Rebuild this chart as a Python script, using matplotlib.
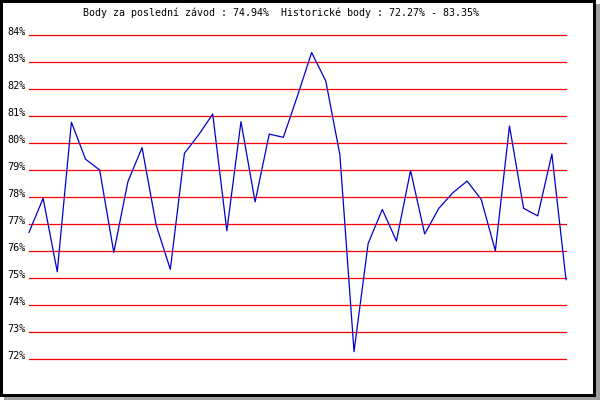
import matplotlib
matplotlib.use("Agg")
import matplotlib.pyplot as plt
from matplotlib.patches import Rectangle

# scores per race (%)
scores = [76.69, 77.95, 75.23, 80.77, 79.40, 79.00, 75.95, 78.57, 79.83, 76.96,
          75.32, 79.62, 80.30, 81.07, 76.75, 80.79, 77.82, 80.33, 80.21, 81.75,
          83.35, 82.30, 79.56, 72.27, 76.28, 77.54, 76.37, 78.98, 76.63, 77.58,
          78.16, 78.59, 77.91, 76.01, 80.63, 77.58, 77.30, 79.59, 74.94]
y_ticks = list(range(72, 85))
y_labels = [f"{v}%" for v in y_ticks]
title = "Body za poslední závod : 74.94%  Historické body : 72.27% - 83.35%"

W, H = 600, 400
fig = plt.figure(figsize=(6, 4), dpi=100)

# frame with drop shadow
fig.patches.append(Rectangle((4 / W, 0), 596 / W, 396 / H, transform=fig.transFigure,
                             facecolor="#a0a0a0", edgecolor="none", zorder=0))
fig.patches.append(Rectangle((0, 3 / H), 596 / W, 397 / H, transform=fig.transFigure,
                             facecolor="black", edgecolor="none", zorder=0))
fig.patches.append(Rectangle((3 / W, 6 / H), 590 / W, 391 / H, transform=fig.transFigure,
                             facecolor="white", edgecolor="none", zorder=0))

ax = fig.add_axes([29 / W, 1 - 359 / H, 537 / W, 324 / H])
ax.set_zorder(5)
ax.patch.set_alpha(0)
for s in ax.spines.values():
    s.set_visible(False)

for v in y_ticks:
    ax.axhline(v, color="#ff0000", lw=0.9, zorder=1, clip_on=False)

ax.plot(range(len(scores)), scores, color="#0000cc", lw=0.9, zorder=2, clip_on=False)

ax.set_xlim(0, len(scores) - 1)
ax.set_ylim(72, 84)
ax.set_xticks([])
ax.set_yticks(y_ticks, y_labels, family="DejaVu Sans Mono", fontsize=7.3)
ax.tick_params(axis="y", length=0, pad=2.5)
for lab in ax.get_yticklabels():
    lab.set_va("baseline")

fig.text(83 / W, 1 - 16.5 / H, title, family="DejaVu Sans Mono", fontsize=7.2,
         ha="left", va="baseline", zorder=6)

fig.savefig("out.png", dpi=100)
